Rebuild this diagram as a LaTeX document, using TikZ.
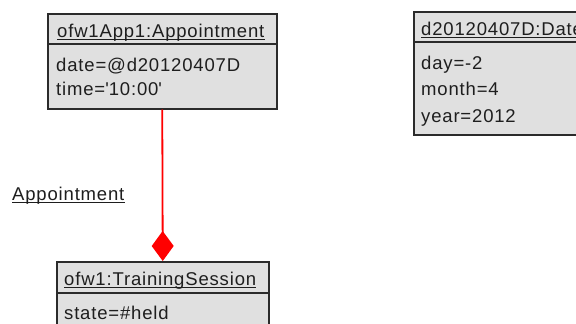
\documentclass[tikz,border=0pt]{standalone}
\usepackage{fontspec}
\setmainfont{Liberation Sans}[LetterSpace=4.5]
\usetikzlibrary{arrows.meta}
\definecolor{objfill}{HTML}{E0E0E0}
\definecolor{objline}{HTML}{2B2B2B}
\definecolor{txtc}{HTML}{1E1E1E}
\begin{document}
\begin{tikzpicture}[x=1pt,y=-1pt,
  objbox/.style={draw=objline, line width=1.5pt, fill=objfill, anchor=north west, inner sep=0pt},
  lbl/.style={anchor=base west, inner sep=0pt, text=txtc, font=\fontsize{18.5}{22}\selectfont},
  sepline/.style={draw=objline, line width=1.5pt},
  uline/.style={draw=txtc, line width=1pt},
  assoc/.style={draw=red, line width=1.8pt, -{Diamond[length=30pt,width=22pt,fill=red]}}]
  \clip (0,0) rectangle (576,324);
  \fill[white] (0,0) rectangle (576,324);

  % object boxes
  \node[objbox, minimum width=229pt, minimum height=95pt] (app) at (47,13) {};
  \draw[sepline] ([yshift=-31pt]app.north west) -- ([yshift=-31pt]app.north east);
  \node[objbox, minimum width=200pt, minimum height=123pt] (dt) at (413,11) {};
  \draw[sepline] ([yshift=-31pt]dt.north west) -- ([yshift=-31pt]dt.north east);
  \node[objbox, minimum width=212pt, minimum height=100pt] (ts) at (56,261) {};
  \draw[sepline] ([yshift=-32pt]ts.north west) -- ([yshift=-32pt]ts.north east);

  % titles and attributes
  \node[lbl] (t1) at (57,37) {ofw1App1:Appointment};
  \node[lbl] (a11) at (56,71) {date=@d20120407D};
  \node[lbl] (a12) at (56,95) {time=\textquotesingle10:00\textquotesingle};
  \node[lbl] (t2) at (421,35) {d20120407D:Date};
  \node[lbl] (a21) at (421,69) {day=-2};
  \node[lbl] (a22) at (421,95) {month=4};
  \node[lbl] (a23) at (421,122) {year=2012};
  \node[lbl] (t3) at (64,285) {ofw1:TrainingSession};
  \node[lbl] (a31) at (64,319) {state=\#held};
  \node[lbl] (lab) at (12,200) {Appointment};
  \foreach \n in {t1,t2,t3,lab}
    \draw[uline] ([yshift=-2.5pt]\n.base west) -- ([yshift=-2.5pt]\n.base east);

  % composition link
  \draw[assoc] (app.south) -- (ts.north);
\end{tikzpicture}
\end{document}
